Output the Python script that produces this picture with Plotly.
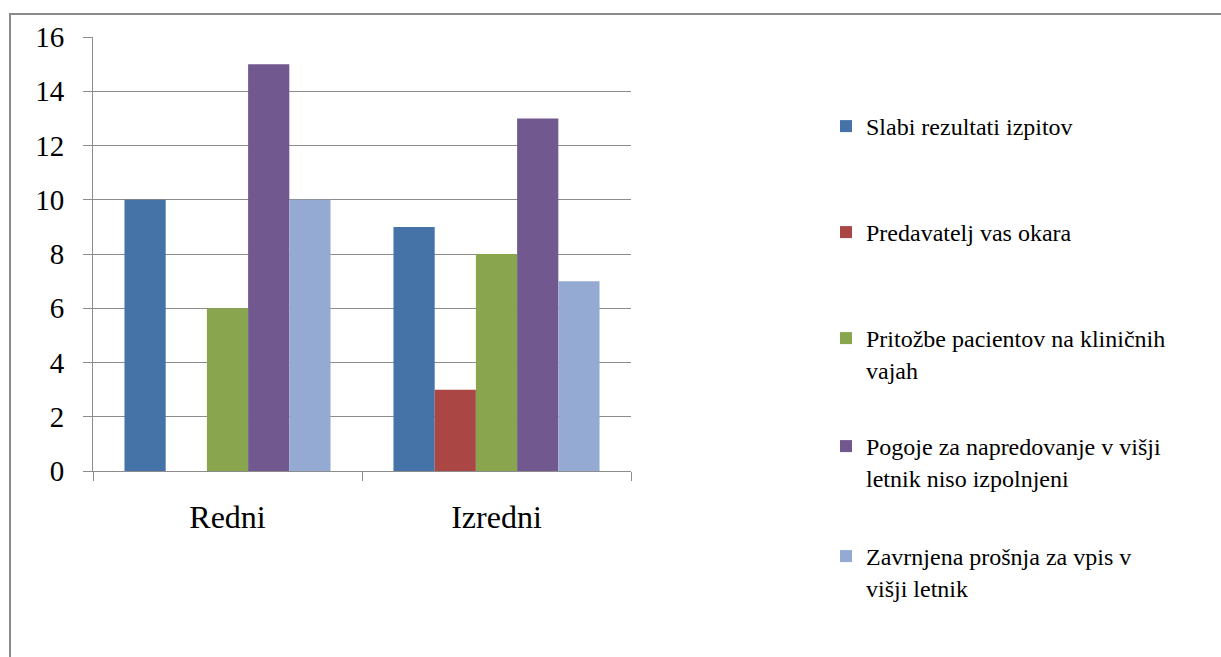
import plotly.graph_objects as go

# Student groups on the category axis
categories = ["Redni", "Izredni"]

# Reasons (series) and their counts per group
series_names = [
    "Slabi rezultati izpitov",
    "Predavatelj vas okara",
    "Pritožbe pacientov na kliničnih<br>vajah",
    "Pogoje za napredovanje v višji<br>letnik niso izpolnjeni",
    "Zavrnjena prošnja za vpis v<br>višji letnik",
]
slabi_rezultati = [10, 9]
predavatelj = [0, 3]
pritozbe = [6, 8]
pogoji = [15, 13]
zavrnjena = [10, 7]
series_values = [slabi_rezultati, predavatelj, pritozbe, pogoji, zavrnjena]

y_ticks = [0, 2, 4, 6, 8, 10, 12, 14, 16]

colors = ["#4572A7", "#AA4643", "#89A54E", "#71588F", "#94AAD2"]

W, H = 1221, 657
L, R, T, B = 93, 631, 37, 471  # plot area in pixels


def px_x(px):
    return (px - L) / (R - L)


def px_y(py):
    return (B - py) / (B - T)


FONT = "Liberation Serif"
legend_tops = [104, 210, 316, 424, 534]

fig = go.Figure()
legend_layout = {}
for i, (name, vals, col) in enumerate(zip(series_names, series_values, colors)):
    key = "legend" if i == 0 else f"legend{i + 1}"
    fig.add_trace(go.Bar(
        x=categories, y=vals, name=name,
        marker=dict(color=col, line=dict(width=0)),
        legend=key,
    ))
    legend_layout[key] = dict(
        x=px_x(826), y=px_y(legend_tops[i]),
        xanchor="left", yanchor="top",
        xref="paper", yref="paper",
        font=dict(family=FONT, size=24, color="#000000"),
        bgcolor="rgba(0,0,0,0)", borderwidth=0,
        valign="top", itemclick=False, itemdoubleclick=False,
    )

fig.update_layout(
    width=W, height=H,
    margin=dict(l=L, r=W - R, t=T, b=H - B, pad=0),
    paper_bgcolor="white", plot_bgcolor="white",
    barmode="group", bargap=0.234, bargroupgap=0,
    showlegend=True,
    font=dict(family=FONT, color="#000000"),
    **legend_layout,
)

fig.update_yaxes(
    range=[0, 16], tickvals=y_ticks, ticktext=[str(v) for v in y_ticks],
    showgrid=True, gridcolor="#8C8C8C", gridwidth=1,
    showline=True, linecolor="#8C8C8C", linewidth=1,
    ticks="outside", ticklen=9, tickcolor="#8C8C8C",
    tickfont=dict(family=FONT, size=29, color="#000000"),
    ticklabelstandoff=13, zeroline=False,
)
fig.update_xaxes(
    showline=True, linecolor="#8C8C8C", linewidth=1,
    ticks="outside", ticklen=9, tickcolor="#8C8C8C", tickson="boundaries",
    tickfont=dict(family=FONT, size=32, color="#000000"),
    ticklabelstandoff=18, showgrid=False,
)

# Outer chart frame
fig.add_shape(
    type="rect", xref="paper", yref="paper",
    x0=px_x(10), x1=px_x(1240), y0=px_y(700), y1=px_y(14),
    line=dict(color="#8A8A8A", width=2), fillcolor="rgba(0,0,0,0)", layer="below",
)

fig.write_html("out.html")
